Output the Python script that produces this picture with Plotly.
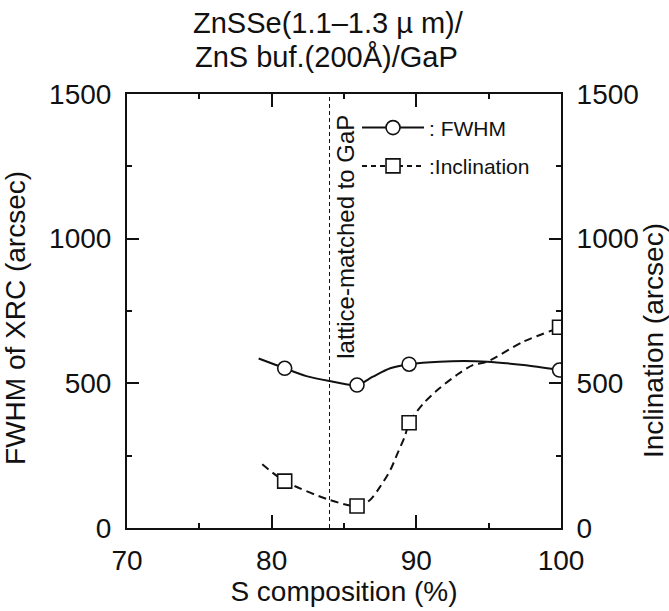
import plotly.graph_objects as go

# Measured points
s_points = [80.9, 85.9, 89.5, 99.9]
fwhm_points = [552, 494, 566, 546]
incl_points = [162, 76, 364, 694]

# Hand-drawn guide curves through the measurements
fwhm_curve_s = [79.1, 80.9, 82.4, 84.0, 85.9, 87.0, 88.2, 89.5, 91.6, 94.9, 97.4, 99.9]
fwhm_curve_val = [586, 552, 525, 508, 494, 523, 552, 566, 575, 575, 563, 546]
incl_curve_s = [79.35, 80.9, 84.0, 85.9, 86.8, 87.5, 88.2, 88.7, 89.2, 89.5,
                90.5, 91.6, 92.8, 93.9, 94.9, 97.4, 100.0]
incl_curve_val = [220, 162, 97, 76, 97, 143, 200, 258, 316, 364,
                  431, 483, 529, 563, 575, 644, 694]

LATTICE_MATCH_S = 84.0

x_ticks = [70, 80, 90, 100]
y_ticks = [0, 500, 1000, 1500]

FONT = "Liberation Sans, Arial, Helvetica, sans-serif"
INK = "#111111"

fig = go.Figure()

fig.add_trace(go.Scatter(
    x=fwhm_curve_s, y=fwhm_curve_val, mode="lines",
    line=dict(color=INK, width=2, shape="spline", smoothing=0.8),
    showlegend=False, hoverinfo="skip"))
fig.add_trace(go.Scatter(
    x=incl_curve_s, y=incl_curve_val, mode="lines", yaxis="y2",
    line=dict(color=INK, width=2, dash="8px,5px", shape="spline", smoothing=0.8),
    showlegend=False, hoverinfo="skip"))

fig.add_trace(go.Scatter(
    x=s_points, y=fwhm_points, mode="markers",
    marker=dict(symbol="circle", size=14, color="white",
                line=dict(color=INK, width=1.6)),
    showlegend=False))
fig.add_trace(go.Scatter(
    x=s_points, y=incl_points, mode="markers", yaxis="y2",
    marker=dict(symbol="square", size=14, color="white",
                line=dict(color=INK, width=1.6)),
    showlegend=False))

# legend keys
fig.add_trace(go.Scatter(
    x=[None], y=[None], mode="lines+markers", name=": FWHM", legendgroup="a",
    line=dict(color=INK, width=2),
    marker=dict(symbol="circle", size=14, color="white", line=dict(color=INK, width=1.6))))
fig.add_trace(go.Scatter(
    x=[None], y=[None], mode="lines+markers", name=":Inclination", legendgroup="b",
    line=dict(color=INK, width=2, dash="5px,4px"),
    marker=dict(symbol="square", size=14, color="white", line=dict(color=INK, width=1.6))))

fig.add_shape(type="line", x0=LATTICE_MATCH_S, x1=LATTICE_MATCH_S, y0=0, y1=1,
              xref="x", yref="paper", line=dict(color=INK, width=1, dash="4px,3px"))

fig.add_annotation(x=LATTICE_MATCH_S, y=0.67, xref="x", yref="paper",
                   xanchor="center", yanchor="middle",
                   xshift=16, text="lattice-matched to GaP", textangle=-90,
                   showarrow=False, font=dict(family=FONT, size=24, color=INK))

# Title (two lines)
fig.add_annotation(x=0.4643, y=1.1636, xref="paper", yref="paper",
                   xanchor="center", yanchor="middle", showarrow=False,
                   text="ZnSSe(1.1\u20131.3 \u00b5 m)/",
                   font=dict(family=FONT, size=29, color=INK))
fig.add_annotation(x=0.4597, y=1.0853, xref="paper", yref="paper",
                   xanchor="center", yanchor="middle", showarrow=False,
                   text="ZnS buf.(200\u00c5)/GaP",
                   font=dict(family=FONT, size=29, color=INK))

# Axis titles
fig.add_annotation(x=-0.2627, y=0.4839, xref="paper", yref="paper",
                   xanchor="center", yanchor="middle", xshift=3,
                   text="FWHM of XRC (arcsec)", textangle=-90, showarrow=False,
                   font=dict(family=FONT, size=28, color=INK))
fig.add_annotation(x=1.2235, y=0.4332, xref="paper", yref="paper",
                   xanchor="center", yanchor="middle", xshift=-4,
                   text="Inclination (arcsec)", textangle=-90, showarrow=False,
                   font=dict(family=FONT, size=28, color=INK))

axis_common = dict(
    showline=True, linecolor=INK, linewidth=2, showgrid=False, zeroline=False,
    ticks="inside", tickcolor=INK, tickwidth=1.5,
    tickfont=dict(family=FONT, size=28, color=INK),
)

fig.update_layout(
    width=669, height=611,
    margin=dict(l=127, r=108, t=94, b=83),
    paper_bgcolor="white", plot_bgcolor="white",
    font=dict(family=FONT, color=INK),
    xaxis=dict(axis_common, range=[70, 100], tickvals=x_ticks, ticklen=13,
               mirror="ticks", ticklabelstandoff=6,
               minor=dict(dtick=5, ticks="inside", ticklen=5, tickcolor=INK, tickwidth=1.5),
               title=dict(text="S composition (%)", font=dict(family=FONT, size=28, color=INK),
                          standoff=4)),
    yaxis=dict(axis_common, range=[0, 1500], tickvals=y_ticks, ticklen=12,
               ticklabelstandoff=8,
               minor=dict(dtick=250, ticks="inside", ticklen=5, tickcolor=INK, tickwidth=1.5)),
    yaxis2=dict(axis_common, range=[0, 1500], tickvals=y_ticks, ticklen=12,
                overlaying="y", side="right", ticklabelstandoff=8,
                minor=dict(dtick=250, ticks="inside", ticklen=5, tickcolor=INK, tickwidth=1.5)),
    legend=dict(x=0.53, y=0.969, xanchor="left", yanchor="top", itemwidth=62,
                bgcolor="rgba(0,0,0,0)", tracegroupgap=8,
                font=dict(family=FONT, size=21, color=INK)),
)

fig.write_html("out.html")
